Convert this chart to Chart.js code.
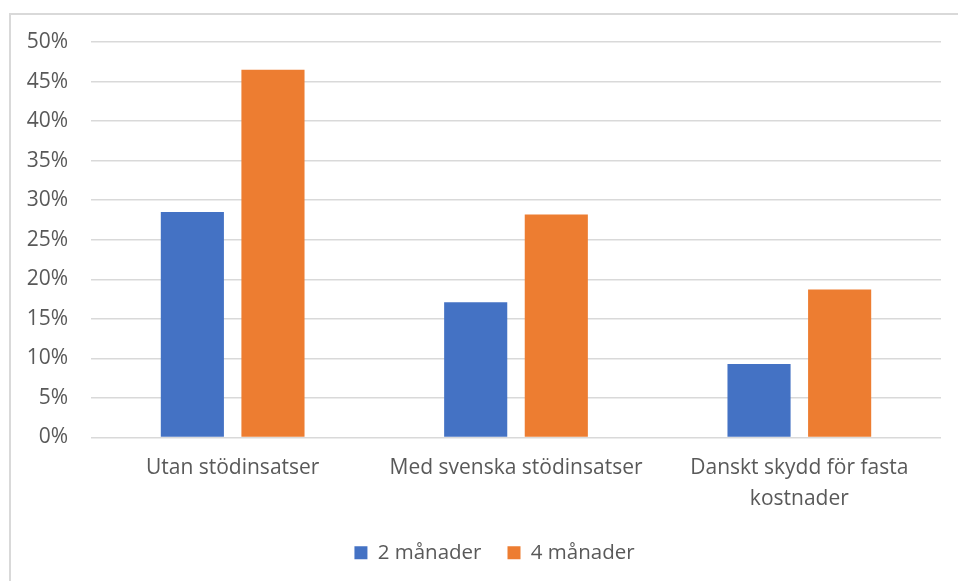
<!DOCTYPE html>
<html>
<head>
<meta charset="utf-8">
<script src="https://cdn.jsdelivr.net/npm/chart.js@4.4.1/dist/chart.umd.min.js"></script>
<style>
  html, body { margin: 0; padding: 0; background: #ffffff; overflow: hidden; }
  #wrap { position: absolute; left: 0; top: 0; width: 958px; height: 581px; }
</style>
</head>
<body>
<div id="wrap"><canvas id="c" width="958" height="581"></canvas></div>
<script>
const categories = [
  "Utan stödinsatser",
  "Med svenska stödinsatser",
  ["Danskt skydd för fasta", "kostnader"]
];
const seriesNames = ["2 månader", "4 månader"];
const values2m = [28.5, 17.1, 9.3];
const values4m = [46.5, 28.2, 18.7];
const yTicks = [0, 5, 10, 15, 20, 25, 30, 35, 40, 45, 50];

const TEXT = "#595959";
const FONT = "'Open Sans', 'Noto Sans', sans-serif";

const borderPlugin = {
  id: "outerBorder",
  afterLayout(chart) {
    // shift legend slightly right, as in the reference
    const lg = chart.legend;
    if (lg) { lg.left += 24; lg.right += 24; }
  },
  beforeDraw(chart) {
    const ctx = chart.ctx;
    ctx.save();
    ctx.fillStyle = "#ffffff";
    ctx.fillRect(0, 0, chart.width, chart.height);
    ctx.strokeStyle = "#D9D9D9";
    ctx.lineWidth = 2;
    ctx.strokeRect(10, 14, chart.width + 20, chart.height + 20);
    ctx.restore();
  }
};

new Chart(document.getElementById("c"), {
  type: "bar",
  data: {
    labels: categories,
    datasets: [
      { label: seriesNames[0], data: values2m, backgroundColor: "#4472C4", borderWidth: 0 },
      { label: seriesNames[1], data: values4m, backgroundColor: "#ED7D31", borderWidth: 0 }
    ]
  },
  options: {
    responsive: false,
    animation: false,
    devicePixelRatio: 1,
    layout: { padding: { left: 0, right: 17, top: 42, bottom: 8 } },
    datasets: { bar: { categoryPercentage: 0.569, barPercentage: 0.783 } },
    plugins: {
      tooltip: { enabled: false },
      legend: {
        position: "bottom",
        labels: {
          color: TEXT,
          font: { family: FONT, size: 20.5 },
          boxWidth: 13,
          boxHeight: 13,
          padding: 26
        }
      }
    },
    scales: {
      x: {
        grid: { display: false, drawTicks: false },
        border: { display: false },
        ticks: {
          color: TEXT,
          font: { family: FONT, size: 21, lineHeight: 1.43 },
          padding: 16,
          maxRotation: 0,
          autoSkip: false
        },
        afterFit(scale) { scale.height = 79; }
      },
      y: {
        min: 0,
        max: 50,
        afterBuildTicks(scale) { scale.ticks = yTicks.map(v => ({ value: v })); },
        grid: { color: "#D9D9D9", lineWidth: 1.5, drawTicks: false },
        border: { display: false },
        ticks: {
          color: TEXT,
          font: { family: FONT, size: 21 },
          padding: 23,
          callback: v => v + "%"
        },
        afterFit(scale) { scale.width = 91; }
      }
    }
  },
  plugins: [borderPlugin]
});
</script>
</body>
</html>
